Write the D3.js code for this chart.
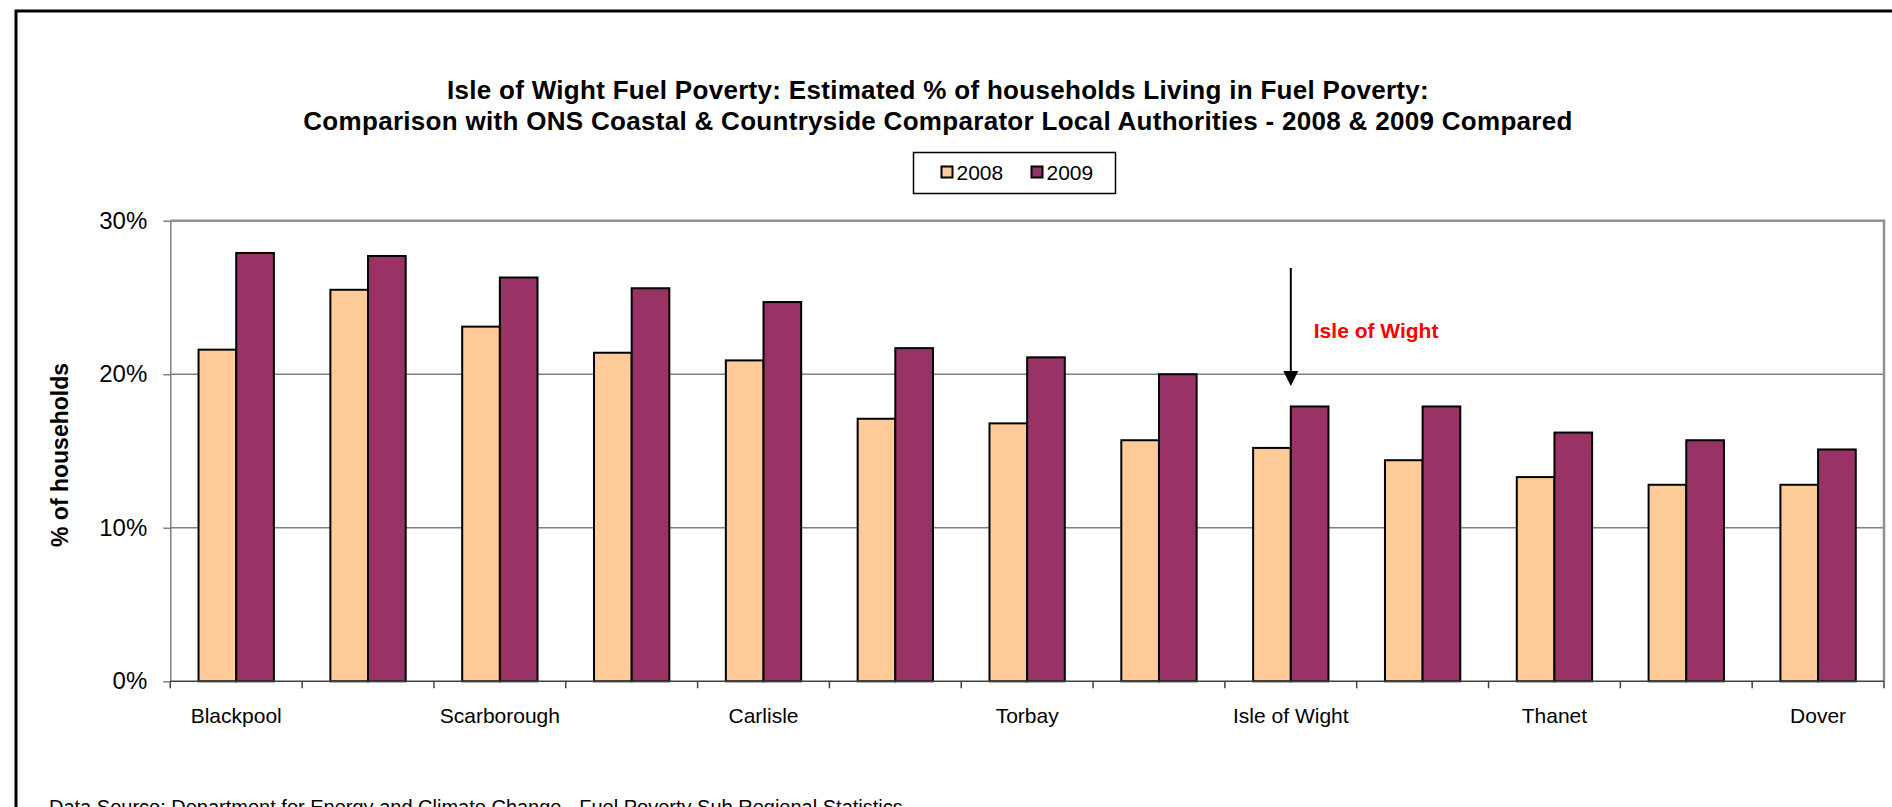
<html>
<head>
<meta charset="utf-8">
<title>Isle of Wight Fuel Poverty</title>
<style>
body {
	margin: 0;
	background: white;
}
svg {
	display: block;
	font-family: "Liberation Sans", Arial, sans-serif;
}
.bar {
	stroke: black;
	stroke-width: 2px;
}
.grid line {
	stroke: #808080;
	stroke-width: 1.5px;
}
.y.axis .domain, .y.axis .tick line {
	stroke: #808080;
	stroke-width: 1.5px;
}
.y.axis .tick text {
	fill: black;
	font-size: 24px;
}
.x.axis .domain {
	display: none;
}
.x.axis .tick text {
	fill: black;
	font-size: 21px;
}
.xtick {
	stroke: #404040;
	stroke-width: 1.5px;
}
.title {
	font-size: 26px;
	font-weight: bold;
	letter-spacing: 0.3px;
	text-anchor: middle;
}
</style>
</head>
<body>
<svg class="chart"></svg>
<script src="https://cdn.jsdelivr.net/npm/d3@7/dist/d3.min.js"></script>
<script>

// local authorities, only every other one is labelled on the axis
var areas = ["Blackpool", "Hastings", "Scarborough", "Great Yarmouth", "Carlisle", "East Lindsey",
	"Torbay", "Waveney", "Isle of Wight", "Shepway", "Thanet", "Weymouth and Portland", "Dover"];
var years = ["2008", "2009"];
var pct2008 = [21.6, 25.5, 23.1, 21.4, 20.9, 17.1, 16.8, 15.7, 15.2, 14.4, 13.3, 12.8, 12.8];
var pct2009 = [27.9, 27.7, 26.3, 25.6, 24.7, 21.7, 21.1, 20.0, 17.9, 17.9, 16.2, 15.7, 15.1];
var yTicks = [0, 10, 20, 30];
var colors = ["#FFCC99", "#993366"];

var titleLines = [
	"Isle of Wight Fuel Poverty: Estimated % of households Living in Fuel Poverty:",
	"Comparison with ONS Coastal & Countryside Comparator Local Authorities - 2008 & 2009 Compared"
];
var highlight = "Isle of Wight";
var sourceText = "Data Source: Department for Energy and Climate Change - Fuel Poverty Sub Regional Statistics";

var W = 1892, H = 807;
var plot = {left: 170.3, right: 1884, top: 220.7, bottom: 681.3};

var data = areas.map(function(a, i) {
	return {area: a, values: [pct2008[i], pct2009[i]]};
});

var svg = d3.select(".chart")
    .attr("width", W)
    .attr("height", H);

// outer frame, runs off the right and bottom of the picture
svg.append("rect")
    .attr("x", 16)
    .attr("y", 11)
    .attr("width", W + 20)
    .attr("height", H + 20)
    .attr("fill", "white")
    .attr("stroke", "black")
    .attr("stroke-width", 3);

var x = d3.scaleBand()
    .domain(areas)
    .range([plot.left, plot.right])
    .padding(0);

var x1 = d3.scaleBand()
    .domain(years)
    .range([0, x.bandwidth()])
    .paddingInner(0)
    .paddingOuter(0.75);

var y = d3.scaleLinear()
    .domain([0, 30])
    .range([plot.bottom, plot.top]);

// gridlines
svg.append("g")
    .attr("class", "grid")
  .selectAll("line")
    .data(yTicks.slice(1))
  .enter().append("line")
    .attr("x1", plot.left)
    .attr("x2", plot.right)
    .attr("y1", function(d) { return y(d); })
    .attr("y2", function(d) { return y(d); });

// plot area border (top + right)
svg.append("path")
    .attr("d", "M" + plot.left + "," + y(30) + "H" + plot.right + "V" + y(0))
    .attr("fill", "none")
    .attr("stroke", "#909090")
    .attr("stroke-width", 2.5);

svg.append("g")
    .attr("class", "y axis")
    .attr("transform", "translate(" + plot.left + ",0)")
    .call(d3.axisLeft(y)
        .tickValues(yTicks)
        .tickSize(7)
        .tickSizeOuter(0)
        .tickPadding(16)
        .tickFormat(function(d) { return d + "%"; }));

// bars
var groups = svg.append("g")
  .selectAll("g")
    .data(data)
  .enter().append("g")
    .attr("transform", function(d) { return "translate(" + x(d.area) + ",0)"; });

groups.selectAll("rect")
    .data(function(d) { return d.values.map(function(v, i) { return {year: years[i], value: v}; }); })
  .enter().append("rect")
    .attr("class", "bar")
    .attr("x", function(d) { return x1(d.year); })
    .attr("width", x1.bandwidth())
    .attr("y", function(d) { return y(d.value); })
    .attr("height", function(d) { return y(0) - y(d.value); })
    .attr("fill", function(d, i) { return colors[i]; });

// baseline and category tick marks
svg.append("line")
    .attr("class", "xtick")
    .attr("x1", plot.left)
    .attr("x2", plot.right)
    .attr("y1", y(0))
    .attr("y2", y(0))
    .attr("stroke-width", 2.5);

svg.append("g")
  .selectAll("line")
    .data(areas.concat(["end"]))
  .enter().append("line")
    .attr("class", "xtick")
    .attr("x1", function(d) { return d == "end" ? plot.right : x(d); })
    .attr("x2", function(d) { return d == "end" ? plot.right : x(d); })
    .attr("y1", y(0))
    .attr("y2", y(0) + 7);

var xAxis = svg.append("g")
    .attr("class", "x axis")
    .attr("transform", "translate(0," + y(0) + ")")
    .call(d3.axisBottom(x)
        .tickSize(0)
        .tickFormat(function(d, i) { return i % 2 == 0 ? d : ""; }));
xAxis.selectAll(".tick text")
    .attr("y", 42)
    .attr("dy", 0);

// y axis title
svg.append("text")
    .attr("transform", "translate(68,455) rotate(-90)")
    .attr("text-anchor", "middle")
    .attr("font-size", 23)
    .attr("font-weight", "bold")
    .text("% of households");

// chart title
svg.selectAll(".title")
    .data(titleLines)
  .enter().append("text")
    .attr("class", "title")
    .attr("x", 938)
    .attr("y", function(d, i) { return 99 + i * 31; })
    .text(function(d) { return d; });

// legend
var legend = svg.append("g")
    .attr("transform", "translate(913.5,152.5)");
legend.append("rect")
    .attr("width", 202)
    .attr("height", 41)
    .attr("fill", "white")
    .attr("stroke", "black")
    .attr("stroke-width", 1.5);
var items = legend.selectAll(".item")
    .data(years)
  .enter().append("g")
    .attr("class", "item")
    .attr("transform", function(d, i) { return "translate(" + (28 + i * 90) + ",0)"; });
items.append("rect")
    .attr("y", 14)
    .attr("width", 11)
    .attr("height", 11)
    .attr("fill", function(d, i) { return colors[i]; })
    .attr("stroke", "black")
    .attr("stroke-width", 2);
items.append("text")
    .attr("x", 15)
    .attr("y", 27)
    .attr("font-size", 21)
    .text(function(d) { return d; });

// arrow pointing at the Isle of Wight bars
var iw = x(highlight) + x.bandwidth() / 2;
svg.append("line")
    .attr("x1", iw)
    .attr("x2", iw)
    .attr("y1", 268)
    .attr("y2", 374)
    .attr("stroke", "black")
    .attr("stroke-width", 2);
svg.append("path")
    .attr("d", "M" + (iw - 7.5) + ",371L" + (iw + 7.5) + ",371L" + iw + ",386Z")
    .attr("fill", "black");
svg.append("text")
    .attr("x", iw + 23)
    .attr("y", 338)
    .attr("fill", "#FF0000")
    .attr("font-size", 21)
    .attr("font-weight", "bold")
    .text(highlight);

// source note, cut by the bottom edge
svg.append("text")
    .attr("x", 49)
    .attr("y", 814)
    .attr("font-size", 20)
    .text(sourceText);

</script>
</body>
</html>
